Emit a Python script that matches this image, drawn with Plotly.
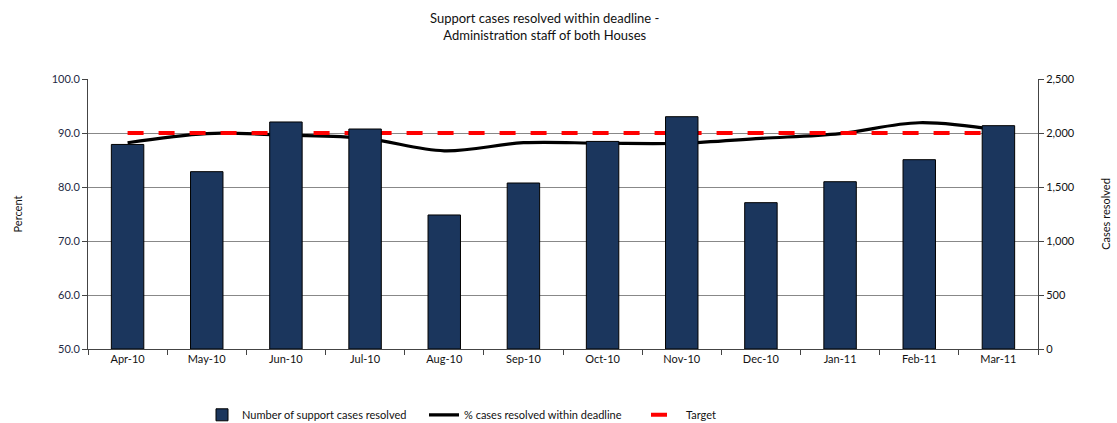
import plotly.graph_objects as go

months = ["Apr-10", "May-10", "Jun-10", "Jul-10", "Aug-10", "Sep-10",
          "Oct-10", "Nov-10", "Dec-10", "Jan-11", "Feb-11", "Mar-11"]
cases_resolved = [1894, 1642, 2102, 2037, 1241, 1537, 1922, 2151, 1355, 1549, 1753, 2068]
pct_within_deadline = [88.2, 89.9, 89.6, 89.0, 86.7, 88.2, 88.1, 88.1, 89.0, 89.9, 91.9, 90.5]
target = [90.0] * 12

FONT = "Lato"
TICKCOL = "#1f2a44"

fig = go.Figure()
fig.add_trace(go.Bar(
    x=months, y=cases_resolved, name="Number of support cases resolved",
    marker=dict(color="#1b365d", line=dict(color="black", width=1)),
    yaxis="y2",
))
fig.add_trace(go.Scatter(
    x=months, y=pct_within_deadline, name="% cases resolved within deadline",
    mode="lines", line=dict(color="black", width=3.2, shape="spline", smoothing=1.0),
))
fig.add_trace(go.Scatter(
    x=months, y=target, name="Target",
    mode="lines", line=dict(color="#ff0000", width=4, dash="16px,15px"),
))

fig.update_layout(
    width=1117, height=423,
    margin=dict(l=88, r=79, t=79, b=74, autoexpand=False),
    paper_bgcolor="white", plot_bgcolor="white",
    font=dict(family=FONT, size=11, color="#222"),
    bargap=0.59,
    showlegend=True,
    legend=dict(
        orientation="h", x=0.12, xanchor="left", y=-0.19, yanchor="top",
        entrywidth=177, entrywidthmode="pixels",
        font=dict(family=FONT, size=11, color="#111"),
        traceorder="normal", itemwidth=30,
    ),
    xaxis=dict(
        automargin=False,
        showline=True, linecolor="#444", linewidth=1,
        ticks="outside", tickson="boundaries", ticklen=5, tickcolor="#444",
        tickfont=dict(family=FONT, size=11, color="#111"),
        showgrid=False,
    ),
    yaxis=dict(
        automargin=False,
        range=[50, 100], dtick=10, tickformat=".1f",
        showline=True, linecolor="#444", linewidth=1,
        ticks="outside", ticklen=5, tickcolor="#444",
        tickfont=dict(family=FONT, size=11, color=TICKCOL),
        showgrid=True, gridcolor="#888", gridwidth=1,
        title=dict(text="Percent", font=dict(family=FONT, size=11, color="#111"), standoff=26),
        zeroline=False,
    ),
    yaxis2=dict(
        automargin=False,
        range=[0, 2500], dtick=500, tickformat=",",
        overlaying="y", side="right",
        showline=True, linecolor="#444", linewidth=1,
        ticks="outside", ticklen=5, tickcolor="#444",
        tickfont=dict(family=FONT, size=11, color="#111"),
        showgrid=False, zeroline=False,
        title=dict(text="Cases resolved", font=dict(family=FONT, size=11, color="#111"), standoff=28),
    ),
    annotations=[dict(
        text="Support cases resolved within deadline -<br>Administration staff of both Houses",
        xref="paper", yref="paper", x=0.481, y=1.196, xanchor="center", yanchor="middle",
        showarrow=False, font=dict(family=FONT, size=13, color="#111"),
    )],
)

fig.write_html("out.html")
